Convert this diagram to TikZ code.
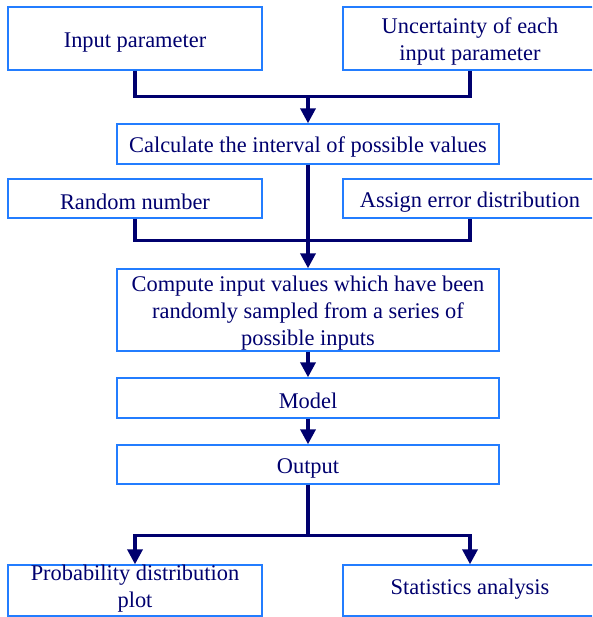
\documentclass[tikz,border=0pt]{standalone}
\usepackage{fontspec}
\setmainfont{Liberation Serif}
\usetikzlibrary{arrows.meta,positioning}
\definecolor{navy}{RGB}{0,0,110}
\definecolor{edgeblue}{RGB}{35,125,255}
\tikzset{box/.style={draw=edgeblue, line width=1.4pt, text=navy, align=flush center,
    minimum width=254pt, text width=245pt, inner sep=0pt,
    font=\fontsize{22.4}{26.8}\selectfont,
    execute at begin node={\rule{0pt}{22pt}}},
  wide/.style={box, minimum width=382pt, text width=372pt},
  low/.style={box, execute at begin node={}, text height=12pt},
  link/.style={draw=navy, line width=3.5pt},
  flow/.style={link, -{Triangle[width=15pt,length=15pt]}}
}

\begin{document}
\begin{tikzpicture}[on grid]
  \clip (0,0) rectangle (592pt,-617pt);
  \node[wide, minimum height=40pt] (calc) at (308pt,-144pt) {Calculate the interval of possible values};
  \node[box, minimum height=63pt] (inp) [above left=105.5pt and 173pt of calc] {Input parameter};
  \node[box, minimum height=63pt] (unc) [right=335pt of inp] {Uncertainty of each\\input parameter};
  \node[box, minimum height=39pt] (rand) [below left=54.5pt and 173pt of calc] {Random number};
  \node[box, minimum height=39pt] (err) [right=335pt of rand] {Assign error distribution};
  \node[wide, minimum height=82pt] (comp) [below=166pt of calc] {Compute input values which have been\\randomly sampled from a series of\\possible inputs};
  \node[wide, minimum height=40pt] (model) [below=88pt of comp] {Model};
  \node[wide, minimum height=39pt] (out) [below=66.5pt of model] {Output};
  \node[low, minimum height=51pt] (plot) [below left=126pt and 173pt of out] {Probability distribution\\plot};
  \node[low, minimum height=51pt] (stat) [right=335pt of plot] {Statistics analysis};

  % junctions
  \coordinate (j1) at ([yshift=27pt]calc.north);
  \coordinate (j2) at ([yshift=28pt]comp.north);
  \coordinate (j3) at ([yshift=-51pt]out.south);

  \draw[link] (inp.south) |- (j1) -| (unc.south);
  \draw[flow] (j1) -- (calc.north);
  \draw[link] (rand.south) |- (j2) -| (err.south);
  \draw[flow] (calc.south) -- (comp.north);
  \draw[flow] (comp) -- (model);
  \draw[flow] (model) -- (out);
  \draw[link] (out) -- (j3);
  \draw[flow] (j3) -| (plot.north);
  \draw[flow] (j3) -| (stat.north);
\end{tikzpicture}
\end{document}
